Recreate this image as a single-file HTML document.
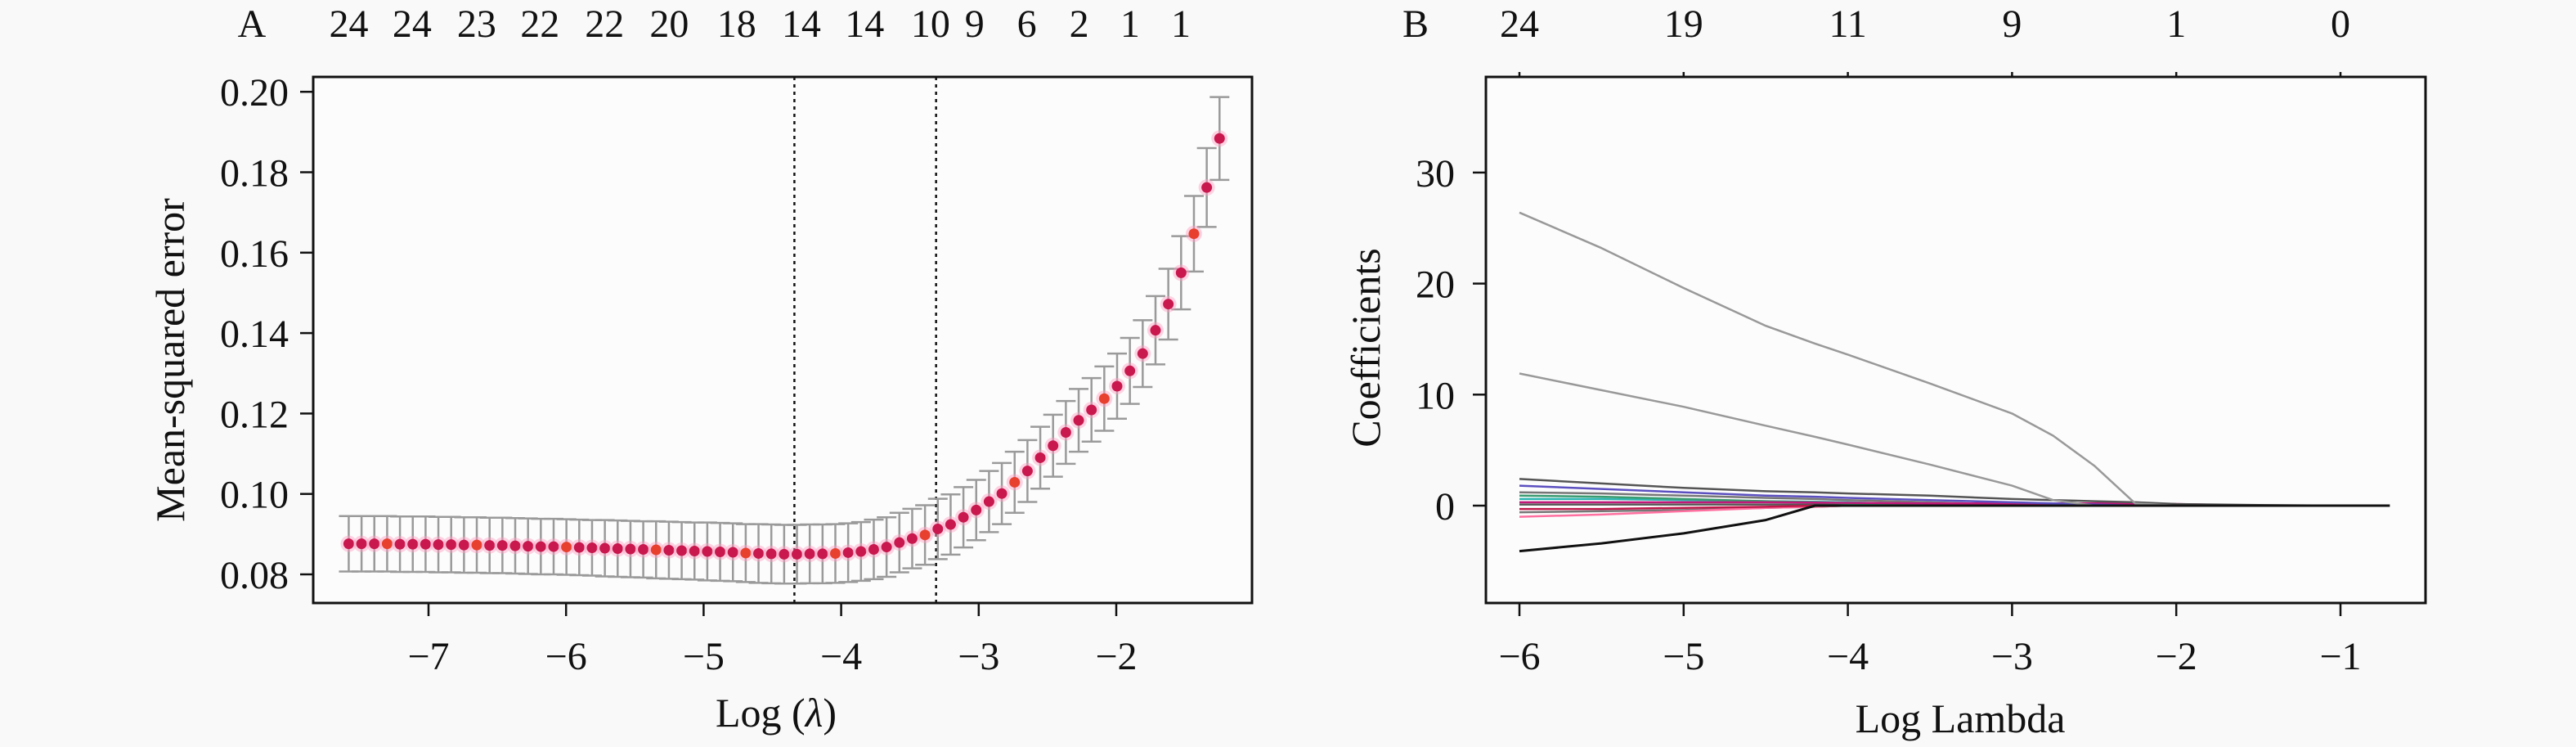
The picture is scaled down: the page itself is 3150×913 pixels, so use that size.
<!DOCTYPE html>
<html><head><meta charset="utf-8"><style>
html,body{margin:0;padding:0;background:#f9f9f9;}
svg{display:block;font-family:"Liberation Serif",serif;}
</style></head><body>
<svg id="chart" width="3150" height="913" viewBox="0 0 3150 913" xmlns="http://www.w3.org/2000/svg">
<rect x="0" y="0" width="3150" height="913" fill="#f9f9f9"/>
<g id="pa"></g>
<g id="pb"></g>
</svg>
<script>
// ---------- Panel A data ----------
const aLogStart = -7.58;
const aLogStep = 0.0931;
const aMse = [0.0876,0.0876,0.0876,0.0876,0.0875,0.0875,0.0875,0.0874,0.0874,0.0873,0.0873,0.0872,0.0872,0.0871,0.0870,0.0869,0.0869,0.0868,0.0867,0.0866,0.0865,0.0864,0.0863,0.0862,0.0861,0.0860,0.0859,0.0858,0.0857,0.0856,0.0855,0.0853,0.0852,0.0851,
0.0850,0.0850,0.0851,0.0851,0.0852,0.0854,0.0857,0.0862,0.0868,0.0879,
0.0889,0.0898,0.0913,0.0924,0.0942,0.0960,0.0981,0.1001,0.1029,0.1057,0.1090,0.1120,0.1153,0.1183,0.1209,0.1237,0.1268,0.1306,0.1349,0.1407,0.1472,0.1550,0.1647,0.1762,0.1884];
const aSe = [0.0069,0.0069,0.0069,0.0069,0.0069,0.0069,0.0069,0.0069,0.0069,0.0069,0.0069,0.0069,0.0069,0.0069,0.0069,0.0069,0.0069,0.0069,0.0069,0.0069,0.0070,0.0070,0.0070,0.0070,0.0071,0.0071,0.0071,0.0071,0.0072,0.0072,0.0072,0.0072,0.0073,0.0073,
0.0073,0.0073,0.0073,0.0073,0.0073,0.0073,0.0073,0.0074,0.0074,0.0074,
0.0074,0.0074,0.0075,0.0075,0.0075,0.0075,0.0076,0.0076,0.0076,0.0077,0.0077,0.0077,0.0078,0.0078,0.0079,0.0080,0.0081,0.0082,0.0083,0.0085,0.0088,0.0091,0.0094,0.0098,0.0103];
const aYTicks = [0.08,0.10,0.12,0.14,0.16,0.18,0.20];
const aYTickLabels = ["0.08","0.10","0.12","0.14","0.16","0.18","0.20"];
const aXTicks = [-7,-6,-5,-4,-3,-2];
const aTopPos = [-7.58,-7.12,-6.65,-6.19,-5.72,-5.25,-4.76,-4.29,-3.83,-3.35,-3.03,-2.65,-2.27,-1.90,-1.53];
const aTopLabels = ["24","24","23","22","22","20","18","14","14","10","9","6","2","1","1"];
const aLambdaMin = -4.34;
const aLambda1se = -3.31;

// ---------- Panel B data ----------
const bLog = [-6,-5.5,-5,-4.5,-4.2,-4,-3.5,-3,-2.75,-2.5,-2.25,-2,-1.5,-1,-0.7];
const bCoefTop = [26.4,23.2,19.6,16.2,14.6,13.6,11.0,8.3,6.3,3.6,0.2,0,0,0,0];
const bCoefSecond = [11.9,10.4,8.9,7.2,6.2,5.5,3.7,1.8,0.5,0,0,0,0,0,0];
const bCoefBlack = [-4.1,-3.4,-2.5,-1.3,0,0,0,0,0,0,0,0,0,0,0];
const bCoefDark1 = [2.4,2.0,1.6,1.3,1.2,1.1,0.9,0.6,0.5,0.4,0.3,0.15,0.05,0,0];
const bCoefBlue = [1.8,1.5,1.2,0.9,0.8,0.7,0.5,0.3,0.2,0.1,0,0,0,0,0];
const bCoefGray3 = [1.2,1.1,0.9,0.7,0.6,0.5,0.3,0.1,0,0,0,0,0,0,0];
const bCoefGreen = [0.9,0.8,0.6,0.4,0.3,0.2,0,0,0,0,0,0,0,0,0];
const bCoefTeal = [0.6,0.6,0.5,0.4,0.35,0.3,0.1,0,0,0,0,0,0,0,0];
const bCoefMagenta = [0.3,0.3,0.3,0.3,0.28,0.25,0.2,0.2,0.2,0.2,0.2,0.15,0,0,0];
const bCoefRed = [-0.3,-0.3,-0.2,-0.1,0,0,0,0,0,0,0,0,0,0,0];
const bCoefGray4 = [-0.6,-0.5,-0.4,-0.2,-0.1,0,0,0,0,0,0,0,0,0,0];
const bCoefPink = [-1.0,-0.8,-0.5,-0.2,-0.1,0,0,0,0,0,0,0,0,0,0];
const bCoefFlat = [0.1,0.1,0.1,0.1,0.1,0.1,0.05,0.05,0.05,0.03,0.02,0.02,0.01,0,0];
const bSeriesNames = ["coef-path-1","coef-path-2","coef-path-3","coef-path-4","coef-path-5","coef-path-6","coef-path-7","coef-path-8","coef-path-9","coef-path-10","coef-path-11","coef-path-12","coef-path-13"];
const bYTicks = [0,10,20,30];
const bXTicks = [-6,-5,-4,-3,-2,-1];
const bTopLabels = ["24","19","11","9","1","0"];

const NS="http://www.w3.org/2000/svg";
function mk(parent,tag,attrs,text){const e=document.createElementNS(NS,tag);for(const k in attrs)e.setAttribute(k,attrs[k]);if(text!==undefined)e.textContent=text;parent.appendChild(e);return e;}

// ---------- Panel A ----------
(function(){
const g=document.getElementById('pa');
const L=383,R=1531,T=94,B=737;
const xS=v=>524+(v+7)*168.2;
const yS=v=>702-(v-0.08)/0.02*98.3;
let r=mk(g,'rect',{x:L,y:T,width:R-L,height:B-T,fill:'#fcfcfc',stroke:'#111','stroke-width':3});


aYTicks.forEach((v,i)=>{
 let t=mk(g,'line',{x1:L-16,x2:L,y1:yS(v),y2:yS(v),stroke:'#111','stroke-width':2.5});
 
 
 let tx=mk(g,'text',{x:L-30,y:yS(v)+17,'font-size':48,'text-anchor':'end',fill:'#111'},aYTickLabels[i]);
 
 
});
aXTicks.forEach(v=>{
 let t=mk(g,'line',{x1:xS(v),x2:xS(v),y1:B,y2:B+16,stroke:'#111','stroke-width':2.5});
 
 
 let tx=mk(g,'text',{x:xS(v),y:818,'font-size':48,'text-anchor':'middle',fill:'#111'},'\u2212'+Math.abs(v));
 
 
});
aTopPos.forEach((v,i)=>{
 let tx=mk(g,'text',{x:xS(v),y:45,'font-size':48,'text-anchor':'middle',fill:'#111'},aTopLabels[i]);
 
 
});
let A=mk(g,'text',{x:308,y:45,'font-size':48,'text-anchor':'middle',fill:'#111'},'A');


[aLambdaMin,aLambda1se].forEach(v=>{
 let d=mk(g,'line',{x1:xS(v),x2:xS(v),y1:T,y2:B,stroke:'#111','stroke-width':2.5,'stroke-dasharray':'4 5'});
 
 
});
aMse.forEach((m,i)=>{
 const lx=aLogStart+i*aLogStep, x=xS(lx);
 const hi=yS(m+aSe[i]), lo=yS(m-aSe[i]);
 let eb=mk(g,'path',{d:`M${x},${hi}V${lo}M${x-12},${hi}H${x+12}M${x-12},${lo}H${x+12}`,stroke:'#9a9a9a','stroke-width':2.5,fill:'none'});
 
 
});
aMse.forEach((m,i)=>{
 const x=xS(aLogStart+i*aLogStep), y=yS(m);
 mk(g,'circle',{cx:x,cy:y,r:10,fill:'#ff9ec0',opacity:0.45});
 let c=mk(g,'circle',{cx:x,cy:y,r:6.5,fill:(i%7===3)?'#e8402e':'#c8184e'});
 
 
});
let yl=mk(g,'text',{x:0,y:0,'font-size':50,'text-anchor':'middle',fill:'#111',transform:'translate(225,440) rotate(-90)'},'Mean-squared error');


let xl=mk(g,'text',{x:949,y:888,'font-size':50,'text-anchor':'middle',fill:'#111'});
xl.innerHTML='Log (<tspan font-style="italic">λ</tspan>)';


})();

// ---------- Panel B ----------
(function(){
const g=document.getElementById('pb');
const L=1817,R=2966,T=94,B=737;
const xS=v=>1858+(v+6)*200.8;
const yS=v=>618-v*13.57;
let r=mk(g,'rect',{x:L,y:T,width:R-L,height:B-T,fill:'#fcfcfc',stroke:'#111','stroke-width':3});


bYTicks.forEach(v=>{
 let t=mk(g,'line',{x1:L-16,x2:L,y1:yS(v),y2:yS(v),stroke:'#111','stroke-width':2.5});
 
 
 let tx=mk(g,'text',{x:L-38,y:yS(v)+17,'font-size':48,'text-anchor':'end',fill:'#111'},String(v));
 
 
});
bXTicks.forEach((v,i)=>{
 let t=mk(g,'line',{x1:xS(v),x2:xS(v),y1:B,y2:B+16,stroke:'#111','stroke-width':2.5});
 
 
 let tx=mk(g,'text',{x:xS(v),y:818,'font-size':48,'text-anchor':'middle',fill:'#111'},'\u2212'+Math.abs(v));
 
 
 let tt=mk(g,'line',{x1:xS(v),x2:xS(v),y1:T-6,y2:T,stroke:'#111','stroke-width':2.5});
 
 
 let tl=mk(g,'text',{x:xS(v),y:45,'font-size':48,'text-anchor':'middle',fill:'#111'},bTopLabels[i]);
 
 
});
let Bl=mk(g,'text',{x:1731,y:45,'font-size':48,'text-anchor':'middle',fill:'#111'},'B');


const series=[bCoefFlat,bCoefGray4,bCoefPink,bCoefRed,bCoefTeal,bCoefGreen,bCoefGray3,bCoefMagenta,bCoefBlue,bCoefDark1,bCoefSecond,bCoefTop,bCoefBlack];
const colors=['#555','#777','#ff6fa0','#c0184a','#2ab5b0','#3a9a70','#777','#c2187a','#5b4fc0','#555','#999','#999','#111'];
series.forEach((s,k)=>{
 const d=s.map((v,i)=>(i?'L':'M')+xS(bLog[i]).toFixed(1)+','+yS(v).toFixed(1)).join('');
 let p=mk(g,'path',{d:d,fill:'none',stroke:colors[k],'stroke-width':k===12?3:2.5,'stroke-linejoin':'round'});
 
 
});
let yl=mk(g,'text',{x:0,y:0,'font-size':50,'text-anchor':'middle',fill:'#111',transform:'translate(1687,425) rotate(-90)'},'Coefficients');


let xl=mk(g,'text',{x:2397,y:895,'font-size':50,'text-anchor':'middle',fill:'#111'},'Log Lambda');


})();
</script>
</body></html>
